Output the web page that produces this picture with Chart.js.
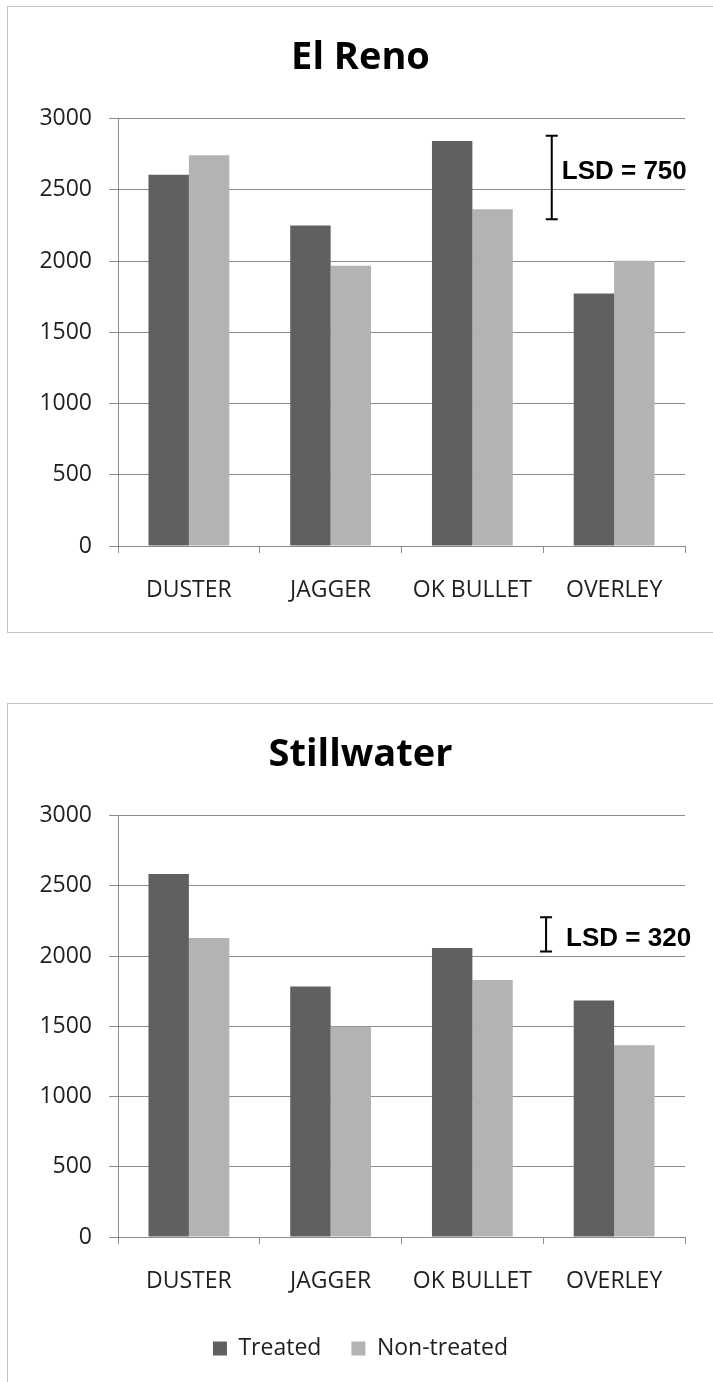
<!DOCTYPE html>
<html>
<head>
<meta charset="utf-8">
<script src="https://cdn.jsdelivr.net/npm/chart.js@4/dist/chart.umd.min.js"></script>
<style>
    body { margin: 0; background: #fff; overflow: hidden; }
    .box { position: absolute; left: 7px; width: 720px; border: 1px solid #c3c3c3; }
    #box1 { top: 6px; height: 625px; }
    #box2 { top: 703px; height: 700px; }
    canvas { display: block; }
</style>
</head>
<body>
<div class="box" id="box1"><canvas id="elreno" width="705" height="625"></canvas></div>
<div class="box" id="box2"><canvas id="stillwater" width="705" height="678"></canvas></div>
<script>
const varieties = ['DUSTER', 'JAGGER', 'OK BULLET', 'OVERLEY'];
const seriesNames = ['Treated', 'Non-treated'];
const yMin = 0;
const yMax = 3000;
const yStep = 500;

const elRenoTreated = [2605, 2250, 2842, 1772];
const elRenoNonTreated = [2742, 1968, 2364, 2003];
const stillwaterTreated = [2584, 1784, 2058, 1684];
const stillwaterNonTreated = [2129, 1497, 1829, 1365];

// LSD bars: label, top and bottom of the bar (yield units), label height
const lsdLabels = ['LSD = 750', 'LSD = 320'];
const lsdTop = [2880, 2277];
const lsdBottom = [2294, 2033];
const lsdTextY = [2626, 2120];

const treatedColor = '#606060';
const nonTreatedColor = '#b3b3b3';
const gridColor = '#8c8c8c';
const textColor = '#1f1f1f';

// draws the I-shaped LSD bar with its label
const lsdPlugin = {
    id: 'lsd',
    afterDatasetsDraw(chart, args, opts) {
        const xs = chart.scales.x;
        const ys = chart.scales.y;
        const ctx = chart.ctx;
        const x = xs.getPixelForValue(opts.at);
        const y1 = ys.getPixelForValue(opts.top);
        const y2 = ys.getPixelForValue(opts.bottom);
        ctx.save();
        ctx.strokeStyle = '#000';
        ctx.lineWidth = 2;
        ctx.beginPath();
        ctx.moveTo(x, y1); ctx.lineTo(x, y2);
        ctx.moveTo(x - 6, y1); ctx.lineTo(x + 6, y1);
        ctx.moveTo(x - 6, y2); ctx.lineTo(x + 6, y2);
        ctx.stroke();
        ctx.fillStyle = '#000';
        ctx.font = 'bold 26px "Liberation Sans", Arial, sans-serif';
        ctx.textAlign = 'left';
        ctx.textBaseline = 'middle';
        ctx.fillText(opts.text, x + opts.gap, ys.getPixelForValue(opts.textY));
        ctx.restore();
    }
};

function makeChart(id, title, treated, nonTreated, k, showLegend, xHeight, padBottom, lsdAt, lsdGap) {
    return new Chart(document.getElementById(id), {
        type: 'bar',
        data: {
            labels: varieties,
            datasets: [
                { label: seriesNames[0], data: treated, backgroundColor: treatedColor,
                  categoryPercentage: 0.57, barPercentage: 1.0 },
                { label: seriesNames[1], data: nonTreated, backgroundColor: nonTreatedColor,
                  categoryPercentage: 0.57, barPercentage: 1.0 }
            ]
        },
        options: {
            responsive: false,
            animation: false,
            devicePixelRatio: 1,
            layout: { padding: { left: 28, right: 28, top: 0, bottom: padBottom } },
            plugins: {
                title: {
                    display: true,
                    text: title,
                    color: '#000',
                    font: { family: '"Open Sans"', size: 38, weight: 'bold' },
                    padding: { top: 28.5, bottom: 37.5 }
                },
                legend: {
                    display: showLegend,
                    position: 'bottom',
                    labels: {
                        boxWidth: 14,
                        boxHeight: 14,
                        padding: 30,
                        color: textColor,
                        font: { family: '"Open Sans"', size: 23 }
                    }
                },
                tooltip: { enabled: false },
                lsd: {
                    at: lsdAt,
                    gap: lsdGap,
                    top: lsdTop[k],
                    bottom: lsdBottom[k],
                    textY: lsdTextY[k],
                    text: lsdLabels[k]
                }
            },
            scales: {
                x: {
                    grid: { offset: true, drawOnChartArea: false, tickLength: 7, color: gridColor },
                    border: { color: gridColor },
                    ticks: { color: textColor, padding: 24, font: { family: '"Open Sans"', size: 23 } },
                    afterFit(s) { s.height = xHeight; }
                },
                y: {
                    min: yMin,
                    max: yMax,
                    grid: { tickLength: 9, color: gridColor },
                    border: { color: gridColor },
                    ticks: { stepSize: yStep, color: textColor, padding: 17,
                             font: { family: '"Open Sans"', size: 23 },
                             callback: v => String(v) },
                    afterFit(s) { s.width = 82; }
                }
            }
        },
        plugins: [lsdPlugin]
    });
}

makeChart('elreno', 'El Reno', elRenoTreated, elRenoNonTreated, 0, false, 86, 0, 2.56, 10);
makeChart('stillwater', 'Stillwater', stillwaterTreated, stillwaterNonTreated, 1, true, 70, 12, 2.52, 20);
</script>
</body>
</html>
